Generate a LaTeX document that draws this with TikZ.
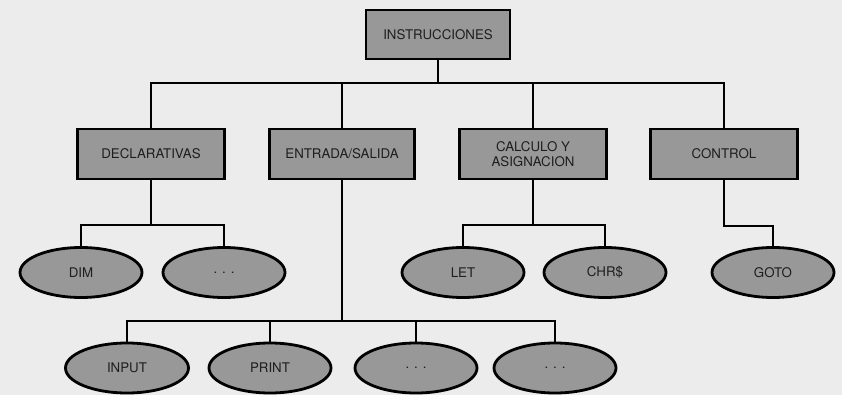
\documentclass[tikz,border=0pt]{standalone}
\usepackage{fontspec}
\setmainfont{TeX Gyre Heros}
\usetikzlibrary{shapes.geometric}
\definecolor{bgc}{RGB}{236,236,236}
\definecolor{boxc}{RGB}{152,152,152}
\definecolor{txtc}{RGB}{30,30,30}
\tikzset{
  rbox/.style={draw=black, line width=2.4pt, fill=boxc, inner sep=0pt, align=center,
     font=\fontsize{13.3}{15}\selectfont, text=txtc},
  oval/.style={ellipse, draw=black, line width=2.8pt, fill=boxc, inner sep=0pt,
     minimum width=122pt, minimum height=50pt, font=\fontsize{13.3}{15}\selectfont, text=txtc},
  conn/.style={draw=black, line width=2pt}
}
\begin{document}
\begin{tikzpicture}[x=1pt,y=-1pt]
\fill[bgc] (0,0) rectangle (842,395);
\useasboundingbox (0,0) rectangle (842,395);
% top
\node[rbox, minimum width=144pt, minimum height=49pt] (top) at (438,34.5) {INSTRUCCIONES};
% second level
\node[rbox, minimum width=147pt, minimum height=50pt] (decl) at (151,154) {DECLARATIVAS};
\node[rbox, minimum width=145pt, minimum height=50pt] (ent) at (342,154) {ENTRADA/SALIDA};
\node[rbox, minimum width=147pt, minimum height=50pt] (calc) at (533,154) {CALCULO Y\\ASIGNACION};
\node[rbox, minimum width=147pt, minimum height=50pt] (ctrl) at (724,154) {CONTROL};
% third level
\node[oval] (dim) at (81,272.5) {DIM};
\node[oval] (dotsa) at (224,272.5) {. . .};
\node[oval] (let) at (463,272.5) {LET};
\node[oval] (chr) at (605,272.5) {CHR\$};
\node[oval] (goto) at (773,272.5) {GOTO};
% bottom level
\node[oval, minimum width=123pt] (input) at (127,368) {INPUT};
\node[oval] (print) at (270,368) {PRINT};
\node[oval] (dotsb) at (416,368) {. . .};
\node[oval] (dotsc) at (555,368) {. . .};
% junctions
\coordinate (j0) at (438,83);
\coordinate (j1) at (151,225);
\coordinate (jc) at (533,225);
\coordinate (j3) at (724,226);
\coordinate (j2) at (342,321);
% connectors
\draw[conn] (top.south) -- (j0);
\draw[conn] (decl.north) |- (j0) -| (ctrl.north);
\draw[conn] (ent.north) -- (ent.north |- j0);
\draw[conn] (calc.north) -- (calc.north |- j0);
\draw[conn] (decl.south) -- (j1);
\draw[conn] (dim.north) |- (j1) -| (dotsa.north);
\draw[conn] (calc.south) -- (jc);
\draw[conn] (let.north) |- (jc) -| (chr.north);
\draw[conn] (ctrl.south) -- (j3) -| (goto.north);
\draw[conn] (ent.south) -- (j2);
\draw[conn] (input.north) |- (j2) -| (dotsc.north);
\draw[conn] (print.north) -- (print.north |- j2);
\draw[conn] (dotsb.north) -- (dotsb.north |- j2);
\end{tikzpicture}
\end{document}
